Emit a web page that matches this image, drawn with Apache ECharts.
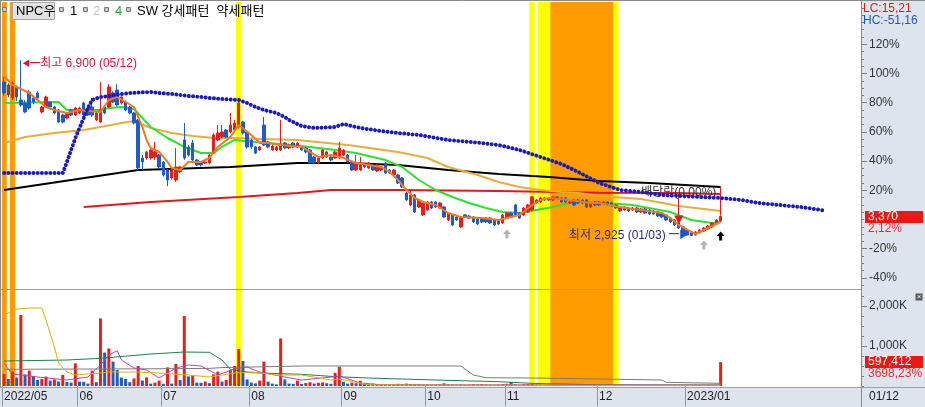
<!DOCTYPE html>
<html><head><meta charset="utf-8">
<script src="https://cdn.jsdelivr.net/npm/echarts@6/dist/echarts.min.js"></script>
<style>html,body{margin:0;padding:0;background:#fff}#c{width:925px;height:407px}</style>
</head><body><div id="c"></div>
<script>
// ---------- data ----------
const startDate = '2022-05-06';
const holidays = ['2022-06-01','2022-06-06','2022-08-15','2022-09-09','2022-09-12','2022-10-03','2022-10-10','2022-12-30','2023-01-23','2023-01-24'];
const slotCount = 205;           // trading-day slots incl. empty future space
const basePrice = 3300;          // 0% reference of the percent scale
const pctTicks = [-40,-20,20,40,60,80,100,120];
const volTicks = [1000,2000];    // K shares

// [open, close, low, high]
const ohlc = [
[6408,6159,6100,6520],[6340,6114,6060,6380],[6046,6380,6000,6420],[6295,6069,5980,6330],[6001,5888,5850,6900],
[5933,5730,5700,6000],[6182,5820,5780,6230],[6046,5955,5900,6100],[6159,6046,6000,6200],[5730,5843,5700,5870],
[5843,6069,5820,6100],[5955,5843,5800,5980],[5843,5707,5680,5870],[5775,5504,5480,5800],[5662,5504,5470,5690],
[5594,5707,5560,5730],[5775,5662,5640,5800],[5662,5820,5640,5850],[5707,5820,5680,5850],[5933,5662,5640,5960],
[5820,5662,5640,5850],[5843,5662,5620,6046],[5549,5707,5520,5740],[5504,5775,5480,6408],[5843,5707,5680,5870],
[5843,6295,5820,6360],[6159,5955,5930,6200],[6227,5888,5860,6360],[5933,6069,5900,6100],[5955,5775,5750,5990],
[5843,5707,5680,5870],[5707,5481,5450,5730],[5549,4464,4420,5570],[4690,4600,4419,4758],[4690,4826,4650,4850],
[4690,4871,4650,4900],[4712,4826,4645,5052],[4758,4487,4450,4780],[4600,4306,4270,4620],[4419,4193,4057,4440],
[4238,4419,4200,4440],[4193,4487,4150,4916],[4380,4487,4350,4510],[5097,4690,4650,5481],[4939,4758,4720,4980],
[5029,4645,4600,5097],[4645,4532,4510,4670],[4600,4532,4500,4620],[4577,4600,4550,4630],[4577,4758,4550,4780],
[4803,5210,4780,5250],[5097,5255,5070,5436],[5165,5278,5140,5436],[5323,5165,5140,5350],[5278,5436,5250,5707],
[5323,5481,5300,5549],[5390,5933,5360,6046],[5504,5255,5220,5530],[5278,4939,4900,5300],[5097,4939,4900,5120],
[4939,4803,4780,4960],[4871,4939,4850,4960],[5436,4984,4960,5617],[5052,4939,4910,5075],[4871,4960,4850,4990],
[4871,4939,4850,4960],[4871,4984,4850,5549],[5029,4916,4890,5050],[4916,4984,4890,5010],[5029,4939,4910,5050],
[4939,5029,4910,5050],[4939,4871,4850,4960],[4916,4826,4800,4940],[4871,4577,4550,4890],[4712,4577,4550,4740],
[4577,4690,4550,4712],[4690,4871,4670,4890],[4712,4826,4690,4850],[4712,4645,4620,4735],[4690,4826,4670,4850],
[4690,4916,4670,5052],[4758,4871,4735,4890],[4758,4600,4577,4780],[4600,4419,4396,4620],[4419,4577,4396,4758],
[4419,4532,4396,4712],[4532,4487,4464,4555],[4464,4577,4440,4600],[4532,4419,4396,4555],[4396,4532,4370,4555],
[4419,4487,4396,4510],[4577,4351,4330,4600],[4419,4351,4330,4440],[4306,4419,4283,4440],[4306,4125,4100,4330],
[4238,4035,4010,4260],[3899,3741,3720,3920],[3628,3854,3600,3967],[3854,3470,3447,3880],[3583,3741,3560,3764],
[3402,3673,3380,3696],[3515,3696,3490,3720],[3696,3560,3538,3720],[3696,3583,3560,3720],[3560,3673,3538,3696],
[3583,3357,3334,3605],[3289,3447,3266,3470],[3402,3176,3153,3424],[3357,3289,3266,3380],[3131,3357,3108,3380],
[3402,3357,3334,3424],[3379,3334,3311,3402],[3357,3244,3221,3380],[3334,3198,3176,3357],[3334,3244,3221,3357],
[3334,3244,3221,3357],[3334,3221,3198,3357],[3289,3176,3153,3311],[3289,3198,3176,3311],[3221,3402,3198,3424],
[3334,3447,3311,3470],[3447,3357,3334,3470],[3628,3402,3380,3650],[3447,3334,3311,3470],[3402,3560,3380,3583],
[3470,3628,3447,3650],[3515,3809,3490,3832],[3673,3741,3650,3764],[3696,3786,3673,3809],[3786,3741,3718,3809],
[3786,3741,3718,3809],[3741,3809,3718,3832],[3809,3786,3764,3832],[3786,3696,3673,3809],[3786,3696,3673,3809],
[3673,3696,3650,3718],[3741,3628,3605,3764],[3741,3673,3650,3764],[3741,3673,3650,3764],[3741,3583,3560,3764],
[3583,3673,3560,3696],[3696,3628,3605,3718],
[3696,3628,3605,3718],[3650,3696,3628,3718],[3696,3628,3605,3718],[3673,3605,3583,3696],[3628,3560,3538,3650],
[3492,3560,3470,3583],[3515,3583,3492,3605],[3560,3492,3470,3583],[3515,3560,3492,3583],[3560,3470,3447,3583],
[3470,3538,3447,3560],[3538,3447,3424,3560],[3515,3424,3402,3538],[3492,3424,3402,3515],[3470,3379,3357,3492],
[3447,3357,3334,3470],[3402,3289,3266,3424],[3334,3244,3221,3357],[3289,3176,3153,3311],[3221,3108,3085,3244],
[3131,3018,2995,3153],
[3063,2950,2940,3085],[3018,2940,2925,3040],[2950,3018,2935,3040],[3000,3063,2980,3085],[3040,3108,3018,3131],
[3085,3153,3063,3176],[3131,3221,3108,3244],[3198,3289,3176,3311],[3266,3370,3244,3390]
];

// volume in thousands of shares
const volume = [
300,175,360,210,1775,290,385,250,150,175,
235,135,165,110,275,100,85,565,110,105,
60,385,95,1690,835,940,610,400,210,175,
95,190,500,135,215,60,85,135,55,465,
60,550,150,1750,240,275,85,80,110,70,
290,360,110,150,400,500,925,625,165,85,
65,135,610,110,60,40,1190,165,60,55,
135,50,75,95,60,80,90,70,55,330,
480,105,60,85,70,130,55,45,60,40,
50,45,35,40,55,45,60,50,40,45,
35,40,30,35,45,67,40,35,30,35,
25,30,45,40,50,35,30,25,30,45,
55,100,40,30,45,50,60,35,30,25,
30,25,20,25,20,25,30,20,15,20,
25,20,15,20,18,15,20,25,15,20,
18,15,20,15,12,15,18,12,15,20,
30,20,15,20,25,18,20,15,22,18,
25,597.412
];

// price overlays [slot index, price]
const orangeLine = [[0,6543],[2,6340],[4,6250],[6,6159],[8,6001],[10,5843],[12,5775],[15,5707],[18,5775],[20,5752],[23,5730],[25,6001],[27,6069],[29,5956],[31,5843],[33,5390],[34,5097],[35,4916],[37,4826],[39,4600],[40,4464],[42,4419],[44,4600],[47,4600],[49,4690],[51,4939],[54,5165],[56,5436],[59,5210],[61,5029],[63,5029],[66,4984],[71,4939],[73,4826],[75,4712],[78,4758],[81,4690],[84,4577],[87,4532],[90,4487],[92,4374],[94,4193],[96,3967],[98,3786],[100,3696],[103,3628],[106,3447],[109,3357],[114,3334],[118,3289],[121,3357],[123,3402],[126,3628],[128,3741],[130,3786],[135,3741],[140,3673],[142,3673],[147,3583],[152,3515],[157,3447],[159,3334],[161,3176],[164,3018],[165,2972],[168,3108],[171,3244]];
const greenLine = [[0,5933],[13,5955],[15,5775],[23,5775],[25,5820],[28,5843],[31,5797],[33,5594],[35,5390],[39,5142],[43,4939],[47,4803],[50,4803],[52,4939],[55,5097],[60,5052],[63,5029],[71,4961],[79,4871],[84,4803],[91,4645],[95,4487],[99,4193],[103,3967],[107,3809],[111,3673],[115,3560],[119,3470],[123,3447],[127,3515],[131,3583],[135,3673],[139,3696],[143,3673],[150,3628],[159,3470],[164,3289],[169,3221],[171,3244]];
const goldLine = [[0,5029],[5,5165],[12,5255],[19,5323],[23,5390],[28,5481],[31,5526],[35,5368],[40,5255],[45,5187],[50,5142],[56,5142],[62,5120],[70,5097],[82,4984],[94,4826],[101,4690],[106,4487],[113,4306],[118,4148],[123,4035],[128,3967],[133,3922],[137,3899],[142,3831],[152,3764],[161,3605],[171,3492]];
const blackLine = [[0,3967],[32,4419],[54,4487],[70,4577],[82,4577],[94,4532],[106,4419],[118,4328],[130,4261],[142,4170],[154,4125],[171,4035]];
const redLine = [[19,3583],[35,3696],[56,3809],[70,3899],[78,3967],[94,3967],[118,3944],[142,3906],[160,3899],[171,3876]];
const blueDots = [[0,4351],[14,4351],[15,4600],[16,4871],[17,5142],[18,5368],[19,5594],[20,5820],[21,6001],[23,6069],[25,6091],[28,6137],[30,6159],[35,6182],[37,6159],[40,6137],[42,6114],[44,6091],[47,6069],[49,6046],[52,6024],[56,6001],[58,5933],[60,5843],[62,5775],[65,5707],[67,5617],[68,5549],[71,5413],[74,5368],[79,5390],[81,5458],[85,5368],[90,5300],[94,5255],[99,5210],[106,5097],[114,5029],[118,4984],[123,4871],[128,4712],[133,4555],[137,4374],[142,4125],[147,3967],[152,3922],[157,3854],[166,3809],[171,3786],[176,3741],[180,3673],[185,3628],[190,3583],[195,3515],[196,3493]];

// volume overlays [slot index, K shares]
const volYellow = [[0,1775],[1,1825],[3,1925],[6,1950],[9,1950],[10,1650],[12,975],[13,575],[15,350],[17,275],[23,325],[25,350],[31,350],[37,325],[44,275],[49,225],[55,325],[59,350],[65,275],[71,275],[78,150],[80,175],[87,30],[100,25],[120,20],[142,15],[171,20]];
const volGreen = [[0,625],[15,650],[23,692],[35,800],[43,850],[49,842],[52,650],[54,417],[59,333],[71,292],[79,233],[87,200],[103,150],[118,108],[126,67],[142,30],[171,25]];
const volGray = [[0,417],[35,430],[49,440],[52,460],[71,500],[109,500],[112,275],[115,208],[126,200],[142,175],[157,150],[158,92],[164,80],[171,67]];
const volMagenta = [[0,575],[1,420],[2,300],[8,225],[15,150],[20,225],[23,525],[25,775],[27,883],[28,650],[31,450],[34,400],[37,200],[41,450],[44,525],[47,500],[51,275],[55,425],[58,475],[61,350],[67,225],[71,150],[76,200],[80,250],[85,75],[90,30],[171,25]];

// highlighted days (slot indices)
const orangeDays = [0,2,131,132,133,134,135,136,137,138,139,140,141,142,143,144,145];
const yellowDays = [56,126,128,129,130,146];

// annotations
const highPoint = {idx:4, price:6900, text:'최고 6,900 (05/12)'};
const lowPoint = {idx:164, price:2925, text:'최저 2,925 (01/03)'};
const exDiv = {idx:161, top:3899, bottom:3290, text:'배당락(0.00%)'};
const lastMark = {idx:171, top:4035, bottom:3395};
const grayArrows = [[120,2972],[167,2724]];
const blackArrows = [[171,2927]];

// ---------- build ----------
function buildDates(){
  const out=[]; let t=Date.parse(startDate+'T00:00:00Z');
  while(out.length<slotCount){
    const d=new Date(t); const wd=d.getUTCDay(); const s=d.toISOString().slice(0,10);
    if(wd!==0&&wd!==6&&!holidays.includes(s)) out.push(s);
    t+=86400000;
  }
  return out;
}
const dates = buildDates();
const lastIdx = ohlc.length-1;
const monthStart = new Set();
dates.forEach((d,i)=>{ if(i<=lastIdx && (i===0 || d.slice(0,7)!==dates[i-1].slice(0,7))) monthStart.add(i); });

const FONT = '"Liberation Sans", "Noto Sans CJK KR", sans-serif';
const RED = '#e3201b', BLUE = '#1f5cc4';
const PMIN = 1729, PMAX = 8216;
const pctToPrice = p => basePrice*(1+p/100);
const majorPrice = pctTicks.map(pctToPrice);
const minorPrice = []; for(let p=-45;p<=145;p+=5) minorPrice.push(pctToPrice(p));
const minorVol = []; for(let v=0;v<=2400;v+=250) minorVol.push(v);

const bandData = dates.map((d,i)=> orangeDays.includes(i) ? {value:1,itemStyle:{color:'#ff9c00'}} : yellowDays.includes(i) ? {value:1,itemStyle:{color:'#ffff00'}} : '-');
const volData = volume.map((v,i)=>({value:v,itemStyle:{color:(i===0||v>=volume[i-1])?RED:BLUE}}));

const upArrow = 'path://M4,0 L8,4.5 L5.5,4.5 L5.5,9 L2.5,9 L2.5,4.5 L0,4.5 Z';
function lineSeries(data,color,width,x,y,z){
  return {type:'line',data,xAxisIndex:x,yAxisIndex:y,showSymbol:false,symbol:'none',smooth:false,silent:true,z:z||3,
    lineStyle:{color,width},emphasis:{disabled:true}};
}
function bandSeries(x,y){
  return {type:'bar',xAxisIndex:x,yAxisIndex:y,data:bandData,barWidth:5.4,barGap:'-100%',silent:true,z:0,
    itemStyle:{borderWidth:0}};
}

const chart = echarts.init(document.getElementById('c'),null,{renderer:'canvas'});
chart.setOption({
  animation:false,
  grid:[
    {left:2,right:64,top:2,height:287,outerBoundsMode:'none'},
    {left:2,right:64,top:290,height:96,outerBoundsMode:'none'}
  ],
  xAxis:[
    {gridIndex:0,type:'category',data:dates,boundaryGap:true,show:false},
    {gridIndex:1,type:'category',data:dates,boundaryGap:true,
      axisLine:{show:false},
      axisTick:{show:true,interval:(i)=>monthStart.has(i),length:20,lineStyle:{color:'#8c96a6'}},
      axisLabel:{show:true,interval:(i)=>monthStart.has(i),align:'left',margin:5,color:'#222',fontSize:12,fontFamily:FONT,
        formatter:(v,i)=>{const p=v.split('-'); return (i===0||p[1]==='01')? p[0]+'/'+p[1] : p[1];}},
      splitLine:{show:false}},
    {gridIndex:0,type:'category',data:dates,boundaryGap:true,show:false},
    {gridIndex:1,type:'category',data:dates,boundaryGap:true,show:false}
  ],
  yAxis:[
    {gridIndex:0,type:'value',position:'right',min:PMIN,max:PMAX,axisLine:{show:true,lineStyle:{color:'#7f7f7f'}},
      axisTick:{show:true,length:3,customValues:minorPrice,lineStyle:{color:'#7f7f7f'}},axisLabel:{show:false},splitLine:{show:false}},
    {gridIndex:0,type:'value',position:'right',min:PMIN,max:PMAX,axisLine:{show:false},
      axisTick:{show:true,length:6,customValues:majorPrice,lineStyle:{color:'#7f7f7f'}},
      axisLabel:{show:true,customValues:majorPrice,margin:8,color:'#333',fontSize:12,fontFamily:FONT,
        formatter:v=>Math.round((v/basePrice-1)*100)+'%'},splitLine:{show:false}},
    {gridIndex:1,type:'value',position:'right',min:0,max:2400,axisLine:{show:true,lineStyle:{color:'#7f7f7f'}},
      axisTick:{show:true,length:3,customValues:minorVol,lineStyle:{color:'#7f7f7f'}},axisLabel:{show:false},splitLine:{show:false}},
    {gridIndex:1,type:'value',position:'right',min:0,max:2400,axisLine:{show:false},
      axisTick:{show:true,length:6,customValues:volTicks,lineStyle:{color:'#7f7f7f'}},
      axisLabel:{show:true,customValues:volTicks,margin:8,color:'#333',fontSize:12,fontFamily:FONT,
        formatter:v=>v.toLocaleString('en-US')+'K'},splitLine:{show:false}},
    {gridIndex:0,type:'value',min:0,max:1,show:false},
    {gridIndex:1,type:'value',min:0,max:1,show:false}
  ],
  series:[
    bandSeries(2,4),
    bandSeries(3,5),
    lineSeries(redLine,'#e01a1a',2,0,0,2),
    lineSeries(blackLine,'#000000',2,0,0,2),
    lineSeries(goldLine,'#e9ad3a',2,0,0,2),
    lineSeries(greenLine,'#2fe02f',2,0,0,2),
    {type:'candlestick',data:ohlc,xAxisIndex:0,yAxisIndex:0,barWidth:3,silent:true,z:3,
      itemStyle:{color:RED,color0:BLUE,borderColor:RED,borderColor0:BLUE,borderWidth:1},
      markPoint:{silent:true,symbolSize:1,itemStyle:{color:'rgba(0,0,0,0)'},data:[
        {coord:[highPoint.idx,highPoint.price],label:{show:true,position:'right',distance:1,offset:[0,4],
          formatter:'{a|◀}{b|━}{t|'+highPoint.text+'}',
          rich:{a:{color:'#d3163a',fontSize:8,fontFamily:FONT},b:{color:'#d3163a',fontSize:10,fontFamily:FONT},t:{color:'#d3163a',fontSize:12,fontFamily:FONT}}}},
        {coord:[lowPoint.idx,lowPoint.price],label:{show:true,position:'left',distance:2,
          formatter:'{t|'+lowPoint.text+'} {b|━}{a|▶}',rich:{t:{color:'#2b2b8c',fontSize:12,fontFamily:FONT},b:{color:'#1f4fd8',fontSize:10,fontFamily:FONT},a:{color:'#1f4fd8',fontSize:10,fontFamily:FONT}}}},
        {coord:[exDiv.idx,exDiv.top],label:{show:true,position:'inside',formatter:exDiv.text,color:'#333',fontSize:12,fontFamily:FONT}},
        ...grayArrows.map(a=>({coord:a,symbol:upArrow,symbolSize:[8,9],itemStyle:{color:'#b4b4b4'},label:{show:false}})),
        ...blackArrows.map(a=>({coord:a,symbol:upArrow,symbolSize:[8,9],itemStyle:{color:'#000'},label:{show:false}}))
      ]},
      markLine:{silent:true,symbol:['none','triangle'],symbolSize:9,label:{show:false},lineStyle:{color:'#e01a1a',width:1,type:'solid'},
        itemStyle:{color:'#e01a1a'},
        data:[
          [{coord:[exDiv.idx,exDiv.top]},{coord:[exDiv.idx,exDiv.bottom]}],
          [{coord:[lastMark.idx,lastMark.top],symbol:'none'},{coord:[lastMark.idx,lastMark.bottom],symbol:'none'}]
        ]}
    },
    lineSeries(orangeLine,'#f07a26',2,0,0,4),
    {type:'line',data:blueDots,xAxisIndex:0,yAxisIndex:0,showSymbol:false,symbol:'none',silent:true,z:5,
      lineStyle:{color:'#1a1ac0',width:4,type:[0.01,4.19],cap:'round'}},
    {type:'bar',data:volData,xAxisIndex:1,yAxisIndex:2,barWidth:3,silent:true,z:2},
    lineSeries(volGreen,'#1f8048',1,1,2,4),
    lineSeries(volGray,'#7a7a7a',1,1,2,4),
    lineSeries(volMagenta,'#c040c0',1,1,2,4),
    lineSeries(volYellow,'#d8b400',1,1,2,4)
  ],
  graphic:[
    {type:'rect',z:-10,silent:true,shape:{x:861,y:0,width:64,height:407},style:{fill:'#dde4ee'}},
    {type:'rect',z:-10,silent:true,shape:{x:0,y:387,width:861,height:20},style:{fill:'#dde4ee'}},
    {type:'line',z:50,silent:true,shape:{x1:0,y1:0.5,x2:925,y2:0.5},style:{stroke:'#8a8a8a',lineWidth:1}},
    {type:'line',z:50,silent:true,shape:{x1:0.5,y1:0,x2:0.5,y2:387},style:{stroke:'#8a8a8a',lineWidth:1}},
    {type:'line',z:50,silent:true,shape:{x1:0,y1:289.5,x2:861,y2:289.5},style:{stroke:'#9c9c9c',lineWidth:1}},
    {type:'line',z:50,silent:true,shape:{x1:0,y1:387.5,x2:925,y2:387.5},style:{stroke:'#9aa0aa',lineWidth:1}},
    {type:'line',z:50,silent:true,shape:{x1:861.5,y1:0,x2:861.5,y2:407},style:{stroke:'#8a8a8a',lineWidth:1}},
    // header
    {type:'rect',z:50,silent:true,shape:{x:2.5,y:7.5,width:4,height:4},style:{fill:'#c8c8c8',stroke:'#7a7a7a'}},
    {type:'rect',z:50,silent:true,shape:{x:12.5,y:2.5,width:42,height:17},style:{fill:'#e2e2e2',stroke:'#a8a8a8'}},
    {type:'text',z:51,silent:true,x:16,y:11,style:{text:'NPC우',fontSize:13,fontFamily:FONT,fill:'#000',verticalAlign:'middle'}},
    {type:'rect',z:50,silent:true,shape:{x:59.5,y:7.5,width:4,height:4},style:{fill:'#c8c8c8',stroke:'#7a7a7a'}},
    {type:'text',z:51,silent:true,x:70,y:11,style:{text:'1',fontSize:13,fontFamily:FONT,fill:'#000',verticalAlign:'middle'}},
    {type:'rect',z:50,silent:true,shape:{x:83.5,y:7.5,width:4,height:4},style:{fill:'#c8c8c8',stroke:'#7a7a7a'}},
    {type:'text',z:51,silent:true,x:93,y:11,style:{text:'2',fontSize:13,fontFamily:FONT,fill:'#c4c4c4',verticalAlign:'middle'}},
    {type:'rect',z:50,silent:true,shape:{x:104.5,y:7.5,width:4,height:4},style:{fill:'#c8c8c8',stroke:'#7a7a7a'}},
    {type:'text',z:51,silent:true,x:115,y:11,style:{text:'4',fontSize:13,fontFamily:FONT,fill:'#2aa52a',verticalAlign:'middle'}},
    {type:'rect',z:50,silent:true,shape:{x:126.5,y:7.5,width:4,height:4},style:{fill:'#c8c8c8',stroke:'#7a7a7a'}},
    {type:'text',z:51,silent:true,x:137,y:11,style:{text:'SW 강세패턴  약세패턴',fontSize:13,fontFamily:FONT,fill:'#000',verticalAlign:'middle'}},
    // right panel texts
    {type:'text',z:51,silent:true,x:863,y:9,style:{text:'LC:15,21',fontSize:12,fontFamily:FONT,fill:'#d42020',verticalAlign:'middle'}},
    {type:'text',z:51,silent:true,x:863,y:21,style:{text:'HC:-51,16',fontSize:12,fontFamily:FONT,fill:'#2656b8',verticalAlign:'middle'}},
    {type:'rect',z:50,silent:true,shape:{x:865,y:211,width:58,height:12},style:{fill:'#ea1a12'}},
    {type:'text',z:51,silent:true,x:868,y:217,style:{text:'3,370',fontSize:12,fontFamily:FONT,fill:'#fff',verticalAlign:'middle'}},
    {type:'text',z:51,silent:true,x:868,y:229,style:{text:'2,12%',fontSize:12,fontFamily:FONT,fill:'#e03030',verticalAlign:'middle'}},
    {type:'rect',z:50,silent:true,shape:{x:865,y:356,width:58,height:12},style:{fill:'#ea1a12'}},
    {type:'text',z:51,silent:true,x:868,y:362,style:{text:'597,412',fontSize:12,fontFamily:FONT,fill:'#fff',verticalAlign:'middle'}},
    {type:'text',z:51,silent:true,x:868,y:374,style:{text:'3698,23%',fontSize:12,fontFamily:FONT,fill:'#e03030',verticalAlign:'middle'}},
    {type:'text',z:51,silent:true,x:869,y:397,style:{text:'01/12',fontSize:12,fontFamily:FONT,fill:'#222',verticalAlign:'middle'}},
    {type:'rect',z:50,silent:true,shape:{x:915.5,y:293.5,width:7,height:7},style:{fill:'#5a5a5a'}},
    {type:'text',z:51,silent:true,x:919,y:297,style:{text:'×',fontSize:8,fontFamily:FONT,fill:'#fff',align:'center',verticalAlign:'middle'}}
  ]
});
</script></body></html>
